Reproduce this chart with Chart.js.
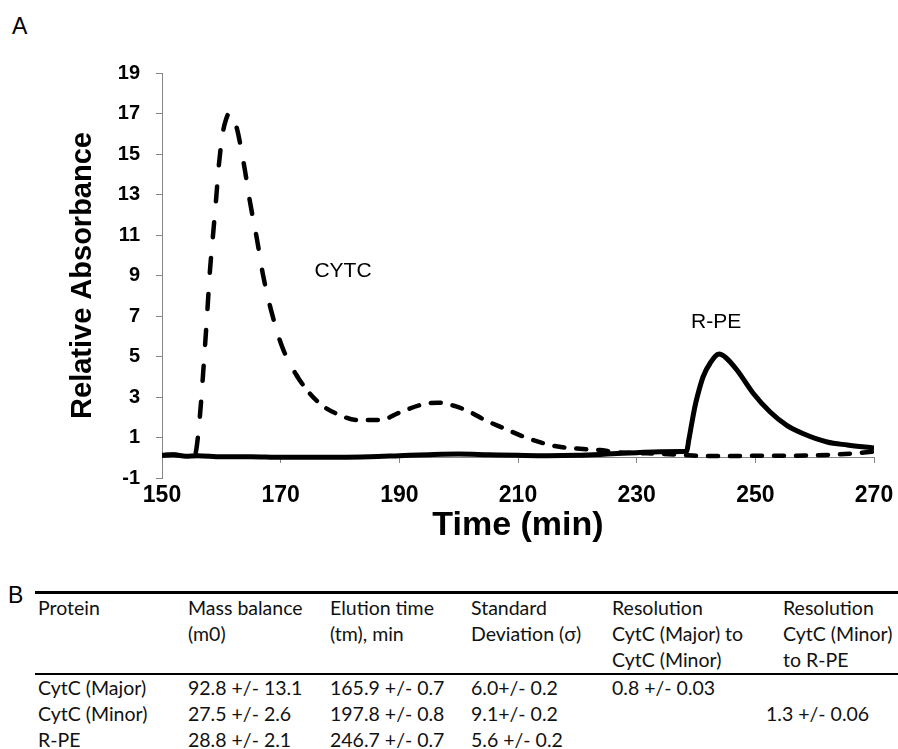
<!DOCTYPE html>
<html><head><meta charset="utf-8">
<script src="https://cdn.jsdelivr.net/npm/chart.js@4.4.0/dist/chart.umd.min.js"></script>
<style>
html,body{margin:0;padding:0;background:#fff;}
body{width:898px;height:749px;position:relative;overflow:hidden;font-family:"Liberation Sans",Arial,sans-serif;}
#wrap{position:absolute;left:0;top:0;width:898px;height:558px;}
.panel{position:absolute;font-family:"Liberation Sans",Arial,sans-serif;font-size:23px;line-height:23px;color:#000;}
#tbl{position:absolute;left:35px;top:591px;width:863px;border-collapse:separate;border-spacing:0;table-layout:fixed;font-family:Lato,"Noto Sans",sans-serif;font-size:19.5px;color:#111;}
#tbl th,#tbl td{padding:0;text-align:left;vertical-align:top;font-weight:normal;line-height:26px;white-space:nowrap;}
#tbl th{border-top:3px solid #000;border-bottom:2px solid #000;padding-top:1px;}
#tbl th:first-child,#tbl td:first-child{padding-left:3px;}
.shift{position:relative;left:-17px;}
</style>
</head><body>
<div class="panel" style="left:12px;top:15px">A</div>
<div id="wrap"><canvas id="c" width="898" height="558"></canvas></div>
<div class="panel" style="left:8px;top:584px">B</div>
<table id="tbl">
<colgroup><col style="width:153px"><col style="width:142px"><col style="width:141px"><col style="width:141px"><col style="width:171px"><col style="width:115px"></colgroup>
<thead><tr id="hdr"></tr></thead>
<tbody id="body"></tbody>
</table>
<script>
// ---- chart data ----
const xTicks = [150, 170, 190, 210, 230, 250, 270];
const yTicks = [-1, 1, 3, 5, 7, 9, 11, 13, 15, 17, 19];

const cytcTime = [150, 152, 154, 155.4, 155.75, 156.4, 157.08, 157.58, 158.09, 158.6, 159.1, 159.6, 160.28, 160.79, 161.4, 162.47, 163.8, 164.83, 166.0, 167.0, 168.37, 170.2, 172.75, 176.3, 180.0, 183.0, 186.9, 189.8, 193.5, 196.5, 199.4, 201.9, 204.5, 207.5, 211.5, 216.2, 221.0, 223.8, 226.4, 230.2, 233.6, 237.6, 240.7, 245, 250, 255, 260, 265, 270];
const cytcAbs  = [0.12, 0.15, 0.08, 0.1, 0.35, 2.1, 4.8, 6.96, 9.27, 11.0, 12.7, 14.5, 16.1, 16.7, 17.05, 16.43, 14.5, 12.63, 10.8, 9.07, 7.3, 5.52, 4.04, 2.75, 2.1, 1.86, 1.86, 2.2, 2.6, 2.72, 2.55, 2.26, 1.85, 1.47, 0.98, 0.58, 0.43, 0.38, 0.28, 0.23, 0.2, 0.14, 0.09, 0.08, 0.1, 0.1, 0.12, 0.18, 0.3];

const rpeTime = [150, 152, 154, 156, 160, 165, 170, 175, 180, 185, 190, 195, 200, 205, 210, 215, 220, 225, 230, 234, 238.4, 238.8, 239.3, 239.8, 240.2, 241.2, 242.4, 243.9, 245.0, 246.9, 249.6, 252.5, 255.3, 258.0, 262.1, 265.5, 270];
const rpeAbs  = [0.12, 0.15, 0.08, 0.1, 0.05, 0.05, 0.02, 0.03, 0.03, 0.05, 0.1, 0.15, 0.18, 0.15, 0.12, 0.1, 0.12, 0.18, 0.25, 0.3, 0.32, 0.9, 1.72, 2.5, 3.0, 4.0, 4.68, 5.12, 4.95, 4.33, 3.2, 2.26, 1.6, 1.2, 0.78, 0.63, 0.48];

const peakLabels = [
  {text: 'CYTC', x: 180.5, y: 9.2},
  {text: 'R-PE', x: 243.4, y: 6.7}
];

// ---- table data ----
const tableHeaders = [
  ['Protein'],
  ['Mass balance', '(m0)'],
  ['Elution time', '(tm), min'],
  ['Standard', 'Deviation (σ)'],
  ['Resolution', 'CytC (Major) to', 'CytC (Minor)'],
  ['Resolution', 'CytC (Minor)', 'to R-PE']
];
const tableRows = [
  ['CytC (Major)', '92.8 +/- 13.1', '165.9 +/- 0.7', '6.0+/- 0.2', '0.8 +/- 0.03', ''],
  ['CytC (Minor)', '27.5 +/- 2.6', '197.8 +/- 0.8', '9.1+/- 0.2', '', '1.3 +/- 0.06'],
  ['R-PE', '28.8 +/- 2.1', '246.7 +/- 0.7', '5.6 +/- 0.2', '', '']
];

// build table
const hdr = document.getElementById('hdr');
tableHeaders.forEach(lines => {
  const th = document.createElement('th');
  lines.forEach((l, i) => { if (i) th.appendChild(document.createElement('br')); th.appendChild(document.createTextNode(l)); });
  hdr.appendChild(th);
});
const body = document.getElementById('body');
tableRows.forEach(row => {
  const tr = document.createElement('tr');
  row.forEach((cell, ci) => {
    const td = document.createElement('td');
    if (ci === 5 && cell) { const s = document.createElement('span'); s.className = 'shift'; s.textContent = cell; td.appendChild(s); }
    else td.textContent = cell;
    tr.appendChild(td);
  });
  body.appendChild(tr);
});

// ---- chart ----
const FONT = '"Liberation Sans", Arial, sans-serif';
Chart.defaults.font.family = FONT;
const AXIS_GRAY = '#868686';

const labelPlugin = {
  id: 'peakLabels',
  afterDatasetsDraw(chart) {
    const {ctx, scales: {x, y}} = chart;
    ctx.save();
    ctx.font = '21px ' + FONT;
    ctx.fillStyle = '#000';
    ctx.textAlign = 'center';
    ctx.textBaseline = 'middle';
    peakLabels.forEach(l => ctx.fillText(l.text, x.getPixelForValue(l.x), y.getPixelForValue(l.y)));
    ctx.restore();
  }
};

const toPts = (xs, ys) => xs.map((t, i) => ({x: t, y: ys[i]}));

new Chart(document.getElementById('c').getContext('2d'), {
  type: 'scatter',
  data: {
    datasets: [
      {
        label: 'R-PE', data: toPts(rpeTime, rpeAbs), xAxisID: 'x', yAxisID: 'y',
        showLine: true, borderColor: '#000', borderWidth: 5, pointRadius: 0,
        cubicInterpolationMode: 'monotone', borderCapStyle: 'round', borderJoinStyle: 'round', order: 2
      },
      {
        label: 'CYTC', data: toPts(cytcTime, cytcAbs), xAxisID: 'x', yAxisID: 'y',
        showLine: true, borderColor: '#000', borderWidth: 4.5, pointRadius: 0,
        cubicInterpolationMode: 'monotone', borderCapStyle: 'round', borderJoinStyle: 'round',
        borderDash: [15, 21],
        segment: { borderDash: c => (c.p0.parsed.x >= 172 ? [10, 12] : [15, 21]) },
        order: 1
      }
    ]
  },
  options: {
    responsive: false,
    animation: false,
    layout: { padding: { top: 73, right: 24, left: 0, bottom: 0 } },
    plugins: { legend: { display: false }, tooltip: { enabled: false } },
    scales: {
      x: {
        type: 'linear', axis: 'x', position: 'bottom', min: 150, max: 270,
        afterBuildTicks: s => { s.ticks = xTicks.map(v => ({value: v})); },
        afterFit: s => { s.height = 80; },
        border: { display: false },
        grid: { display: false, drawTicks: false },
        ticks: { padding: 4, color: '#000', font: { size: 23, weight: 'bold' } },
        title: { display: true, text: 'Time (min)', color: '#000', font: { size: 34, weight: 'bold' }, padding: { top: 0, bottom: 12 } }
      },
      x2: {
        type: 'linear', axis: 'x', position: { y: 0 }, min: 150, max: 270,
        afterBuildTicks: s => { s.ticks = xTicks.map(v => ({value: v})); },
        border: { display: true, color: AXIS_GRAY, width: 1 },
        grid: { display: true, drawOnChartArea: false, drawTicks: true, tickLength: 5, color: AXIS_GRAY },
        ticks: { display: false }
      },
      y: {
        type: 'linear', axis: 'y', position: 'left', min: -1, max: 19,
        afterBuildTicks: s => { s.ticks = yTicks.map(v => ({value: v})); },
        afterFit: s => { s.width = 162; },
        border: { display: true, color: AXIS_GRAY, width: 1 },
        grid: { drawOnChartArea: false, drawTicks: true, tickLength: 6, color: AXIS_GRAY },
        ticks: { padding: 16, color: '#000', font: { size: 20, weight: 'bold' } },
        title: { display: true, text: 'Relative Absorbance', color: '#000', font: { size: 29, weight: 'bold' }, padding: { top: 66, bottom: 0 } }
      }
    }
  },
  plugins: [labelPlugin]
});
</script>
</body></html>
